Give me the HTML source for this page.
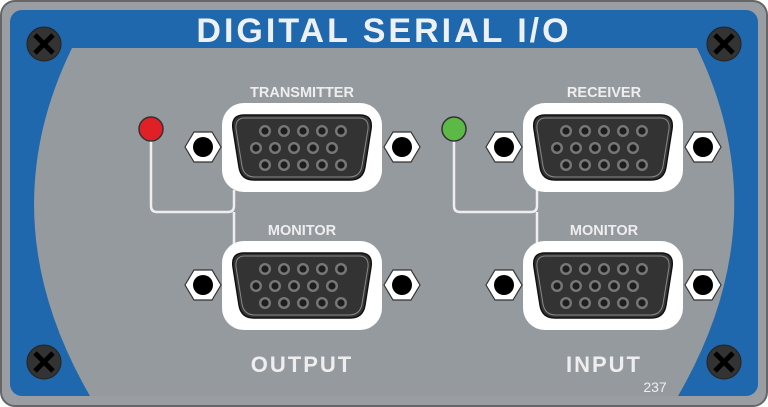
<!DOCTYPE html>
<html><head><style>html,body{margin:0;padding:0;background:#fff}svg{display:block}</style></head>
<body>
<svg width="768" height="407" viewBox="0 0 768 407" xmlns="http://www.w3.org/2000/svg" font-family="'Liberation Sans',sans-serif">
<defs>
<g id="nut"><polygon points="-18,0 -9,-15 9,-15 18,0 9,15 -9,15" fill="#fff" stroke="#333" stroke-width="1.2"/><circle r="10" fill="#000"/></g>
<g id="pin"><circle r="6" fill="#777"/><circle r="3.6" fill="#1e1e1e"/></g>
<g id="conn">
<rect x="0" y="0" width="160" height="89" rx="22" fill="#fff"/>
<path d="M22,12 H138 Q151,12 149,26 L143,64 Q141,77 128,77 H32 Q19,77 17,64 L11,26 Q9,12 22,12 Z" fill="#333" stroke="#111" stroke-width="1.5"/>
<path d="M23,15 H137 Q147,15 146,26 L140,63 Q138,74 127,74 H33 Q22,74 20,63 L14,26 Q13,15 23,15 Z" fill="none" stroke="#888" stroke-width="1"/>
<use href="#pin" x="43" y="28"/><use href="#pin" x="62" y="28"/><use href="#pin" x="81" y="28"/><use href="#pin" x="100" y="28"/><use href="#pin" x="119" y="28"/>
<use href="#pin" x="34" y="45"/><use href="#pin" x="53" y="45"/><use href="#pin" x="72" y="45"/><use href="#pin" x="91" y="45"/><use href="#pin" x="110" y="45"/>
<use href="#pin" x="43" y="62"/><use href="#pin" x="62" y="62"/><use href="#pin" x="81" y="62"/><use href="#pin" x="100" y="62"/><use href="#pin" x="119" y="62"/>
</g>
<g id="screw"><circle r="17" fill="#333" stroke="#222"/><path d="M-9,-9 L9,9 M9,-9 L-9,9" stroke="#000" stroke-width="5"/></g>
</defs>
<rect x="1" y="1" width="766" height="405" rx="14" fill="#9a9ea2" stroke="#666" stroke-width="2"/>
<rect x="10" y="10" width="748" height="386" rx="12" fill="#1f68ad"/>
<path d="M72,48 H697 Q780,220 678,396 H90 Q-12,220 72,48 Z" fill="#959a9e"/>
<use href="#screw" x="44" y="44"/><use href="#screw" x="724" y="44"/><use href="#screw" x="44" y="362"/><use href="#screw" x="724" y="362"/>
<text x="384" y="42" text-anchor="middle" font-size="34" font-weight="bold" fill="#eef1f4" letter-spacing="3">DIGITAL SERIAL I/O</text>
<g fill="none" stroke="#eee" stroke-width="2.5">
<path d="M151,132 V206 Q151,212 157,212 H228 Q234,212 234,206 V190 M234,212 V245"/>
<path d="M454,132 V206 Q454,212 460,212 H531 Q537,212 537,206 V190 M537,212 V245"/>
</g>
<circle cx="151" cy="129" r="12" fill="#e02026" stroke="#333" stroke-width="1.5"/>
<circle cx="454" cy="129" r="12" fill="#5cb946" stroke="#333" stroke-width="1.5"/>
<use href="#conn" x="222" y="103"/><use href="#conn" x="222" y="241"/>
<use href="#conn" x="523" y="103"/><use href="#conn" x="523" y="241"/>
<use href="#nut" x="203" y="147"/><use href="#nut" x="402" y="147"/>
<use href="#nut" x="203" y="285"/><use href="#nut" x="402" y="285"/>
<use href="#nut" x="504" y="147"/><use href="#nut" x="703" y="147"/>
<use href="#nut" x="504" y="285"/><use href="#nut" x="703" y="285"/>
<g fill="#eeeeee" font-weight="bold" text-anchor="middle">
<text x="302" y="97" font-size="14.5">TRANSMITTER</text>
<text x="302" y="235" font-size="14.5">MONITOR</text>
<text x="604" y="97" font-size="14.5">RECEIVER</text>
<text x="604" y="235" font-size="14.5">MONITOR</text>
<text x="302" y="372" font-size="22" letter-spacing="2">OUTPUT</text>
<text x="604" y="372" font-size="22" letter-spacing="2">INPUT</text>
</g>
<text x="655" y="392" text-anchor="middle" font-size="14" fill="#eee">237</text>
</svg>
</body></html>
